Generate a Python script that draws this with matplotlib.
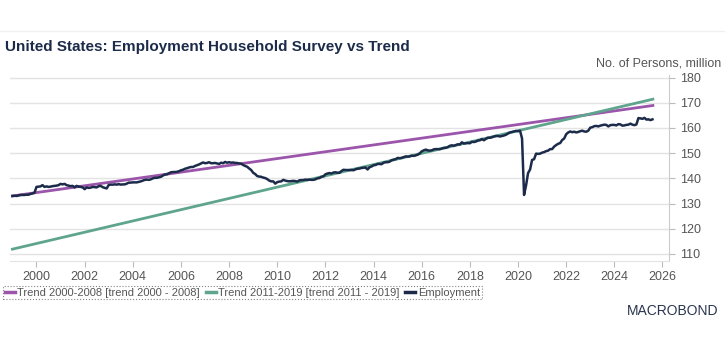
import matplotlib
matplotlib.use("Agg")
import matplotlib.pyplot as plt
from matplotlib.lines import Line2D

plt.rcParams['font.family'] = ['Liberation Sans', 'DejaVu Sans']

# Household survey employment, millions, monthly Jan 1999 - Aug 2025
employment = [
    # 1999
    133.0, 133.1, 133.0, 133.2, 133.4, 133.4, 133.4, 133.5, 133.5, 133.8, 134.0, 134.3,
    # 2000
    136.6, 136.7, 136.8, 137.3, 136.6, 136.8, 136.6, 136.7, 136.9, 137.0, 137.1, 137.3,
    # 2001
    137.8, 137.6, 137.8, 137.3, 137.1, 136.9, 137.0, 136.4, 137.0, 136.7, 136.6, 136.4,
    # 2002
    135.7, 136.4, 136.2, 136.3, 136.6, 136.5, 136.4, 136.9, 137.0, 136.5, 136.2, 136.0,
    # 2003
    137.4, 137.5, 137.5, 137.6, 137.5, 137.7, 137.5, 137.6, 137.6, 137.9, 138.3, 138.3,
    # 2004
    138.4, 138.4, 138.4, 138.6, 138.8, 139.1, 139.4, 139.5, 139.4, 139.6, 140.0, 140.2,
    # 2005
    140.2, 140.4, 140.6, 141.1, 141.5, 141.6, 142.0, 142.4, 142.5, 142.5, 142.6, 142.8,
    # 2006
    143.2, 143.4, 143.8, 144.0, 144.3, 144.5, 144.5, 144.9, 145.2, 145.5, 145.9, 146.3,
    # 2007
    146.0, 146.1, 146.4, 146.0, 146.0, 146.1, 145.9, 145.7, 146.2, 146.0, 146.5, 146.2,
    # 2008
    146.4, 146.2, 146.3, 146.1, 146.1, 145.9, 145.8, 145.3, 144.9, 144.6, 143.9, 143.3,
    # 2009
    142.2, 141.7, 140.9, 140.7, 140.6, 140.3, 140.1, 139.7, 139.1, 138.8, 138.8, 137.9,
    # 2010
    138.5, 138.7, 138.8, 139.4, 139.1, 138.9, 138.8, 138.9, 139.0, 138.9, 138.7, 139.2,
    # 2011
    139.3, 139.3, 139.5, 139.4, 139.5, 139.4, 139.4, 139.6, 140.0, 140.1, 140.6, 140.8,
    # 2012
    141.6, 141.9, 142.1, 141.9, 142.3, 142.4, 142.2, 142.2, 142.9, 143.4, 143.3, 143.3,
    # 2013
    143.3, 143.3, 143.2, 143.6, 143.8, 143.9, 144.1, 144.2, 144.3, 143.5, 144.4, 144.7,
    # 2014
    145.2, 145.3, 145.7, 145.7, 145.6, 146.2, 146.4, 146.4, 146.6, 147.2, 147.4, 147.6,
    # 2015
    148.1, 148.0, 148.1, 148.4, 148.7, 148.6, 148.7, 149.0, 148.9, 149.1, 149.4, 149.9,
    # 2016
    150.7, 151.1, 151.4, 151.1, 151.0, 151.1, 151.5, 151.6, 151.6, 151.6, 151.8, 152.1,
    # 2017
    152.1, 152.4, 152.9, 153.1, 152.9, 153.2, 153.5, 153.4, 154.3, 153.8, 153.9, 154.0,
    # 2018
    153.9, 154.5, 154.4, 154.6, 155.0, 155.1, 155.6, 155.1, 155.7, 156.1, 156.1, 156.3,
    # 2019
    156.6, 156.8, 156.8, 156.6, 156.8, 157.0, 157.3, 157.8, 158.2, 158.4, 158.6, 158.8,
    # 2020
    158.7, 158.9, 155.8, 133.4, 137.2, 142.1, 143.5, 147.3, 147.6, 149.8, 149.7, 149.8,
    # 2021
    150.2, 150.4, 150.8, 151.0, 151.6, 151.6, 152.6, 153.2, 153.7, 154.0, 155.2, 155.8,
    # 2022
    157.5, 158.2, 158.6, 158.3, 158.5, 158.2, 158.4, 158.7, 158.9, 158.6, 158.5, 158.9,
    # 2023
    160.1, 160.3, 160.7, 160.8, 160.6, 160.9, 161.1, 161.3, 161.2, 160.6, 161.1, 161.2,
    # 2024
    161.2, 161.0, 161.5, 161.4, 160.9, 161.0, 161.2, 161.3, 161.7, 161.3, 161.1, 161.4,
    # 2025
    163.9, 163.8, 163.6, 164.0, 163.3, 163.4, 163.1, 163.4,
]
emp_dates = [1999 + i / 12 for i in range(len(employment))]

# trend lines (start / end points)
trend_dates = [1999.0, 2025.6]
trend_2000_2008 = [133.0, 168.9]
trend_2011_2019 = [111.9, 171.4]

x_ticks = list(range(2000, 2027, 2))
y_ticks = list(range(110, 181, 10))

purple = '#9b55ab'
green = '#5fa58e'
navy = '#1c2b4a'
grey = '#555555'

fig = plt.figure(figsize=(7.25, 3.58), dpi=100)
ax = fig.add_axes([10 / 725, 1 - 261 / 358, 659 / 725, 186 / 358])

ax.plot(trend_dates, trend_2000_2008, color=purple, lw=2, zorder=3)
ax.plot(trend_dates, trend_2011_2019, color=green, lw=2, zorder=3)
ax.plot(emp_dates, employment, color=navy, lw=1.8, zorder=4)

ax.set_xlim(1998.9, 2026.27)
ax.set_ylim(107.2, 181)
ax.set_xticks(x_ticks)
ax.set_yticks(y_ticks)
ax.grid(axis='y', color='#e3e3e3', lw=1)
ax.set_axisbelow(True)

ax.yaxis.tick_right()
for s in ['top', 'left']:
    ax.spines[s].set_visible(False)
ax.spines['right'].set_color('#cccccc')
ax.spines['bottom'].set_color('#e3e3e3')
ax.tick_params(axis='both', colors='#bbbbbb', labelcolor=grey, labelsize=9, length=4)
ax.tick_params(axis='x', pad=3)
ax.tick_params(axis='y', pad=4)

fig.text(5 / 725, 1 - 47 / 358, 'United States: Employment Household Survey vs Trend',
         fontsize=11, fontweight='bold', color=navy, va='center', ha='left')
fig.text(721 / 725, 1 - 63 / 358, 'No. of Persons, million', fontsize=9,
         color=grey, va='center', ha='right')
fig.add_artist(Line2D([0, 1], [1 - 31 / 358] * 2, color='#f0f0f0', lw=1))

handles = [Line2D([], [], color=purple, lw=2.5),
           Line2D([], [], color=green, lw=2.5),
           Line2D([], [], color=navy, lw=2.5)]
labels = ['Trend 2000-2008 [trend 2000 - 2008]',
          'Trend 2011-2019 [trend 2011 - 2019]',
          'Employment']
leg = fig.legend(handles, labels, loc='upper left', bbox_to_anchor=(3 / 725, 1 - 286 / 358),
                 ncol=3, frameon=True, fontsize=8, handlelength=0.9, handletextpad=0.25,
                 columnspacing=0.5, borderpad=0.15, borderaxespad=0, fancybox=False,
                 labelcolor=grey)
leg.get_frame().set_linestyle(':')
leg.get_frame().set_edgecolor('#666666')
leg.get_frame().set_linewidth(0.8)

fig.text(718 / 725, 1 - 311 / 358, 'MACROBOND', fontsize=10, color='#2a3550',
         ha='right', va='center')

fig.savefig('out.png', dpi=100)
